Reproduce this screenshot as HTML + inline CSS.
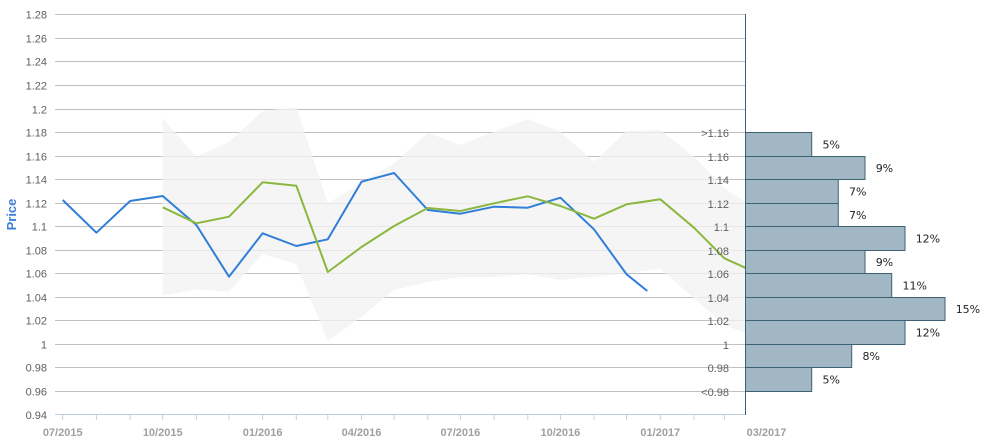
<!DOCTYPE html>
<html><head><meta charset="utf-8"><style>
html,body{margin:0;padding:0;background:#fff;}
svg{display:block;}
</style></head><body>
<svg width="988" height="443" viewBox="0 0 988 443" xmlns="http://www.w3.org/2000/svg">
<defs><clipPath id="pc"><rect x="55" y="0" width="690" height="443"/></clipPath></defs>
<g stroke="#c0c0c0" stroke-width="1">
<line x1="55" x2="745" y1="14.5" y2="14.5"/>
<line x1="55" x2="745" y1="38.5" y2="38.5"/>
<line x1="55" x2="745" y1="61.5" y2="61.5"/>
<line x1="55" x2="745" y1="85.5" y2="85.5"/>
<line x1="55" x2="745" y1="109.5" y2="109.5"/>
<line x1="55" x2="745" y1="132.5" y2="132.5"/>
<line x1="55" x2="745" y1="156.5" y2="156.5"/>
<line x1="55" x2="745" y1="179.5" y2="179.5"/>
<line x1="55" x2="745" y1="203.5" y2="203.5"/>
<line x1="55" x2="745" y1="226.5" y2="226.5"/>
<line x1="55" x2="745" y1="250.5" y2="250.5"/>
<line x1="55" x2="745" y1="273.5" y2="273.5"/>
<line x1="55" x2="745" y1="297.5" y2="297.5"/>
<line x1="55" x2="745" y1="320.5" y2="320.5"/>
<line x1="55" x2="745" y1="344.5" y2="344.5"/>
<line x1="55" x2="745" y1="367.5" y2="367.5"/>
<line x1="55" x2="745" y1="391.5" y2="391.5"/>
</g>
<g clip-path="url(#pc)">
<polygon fill="rgb(242,242,242)" fill-opacity="0.78" points="162.7,118.3 196.4,156.7 229,141.7 262.6,111 296.3,107.3 327.8,203.3 361.5,183 394.1,163.3 427.8,132.7 460.4,145 494.1,131.7 527.8,119 560.4,131.7 594,161.7 626.6,131 660.3,130 694,156.7 724.4,188.3 758,210 758,338 724.4,325 694,298.3 660.3,268.5 626.6,273.3 594,276.7 560.4,280 527.8,274 494.1,277 460.4,277.3 427.8,282 394.1,290 361.5,316.7 327.8,341 296.3,264.3 262.6,254 229,291.7 196.4,289.3 162.7,295.7"/>
<polyline fill="none" stroke="#2f7ed8" stroke-width="2" stroke-linejoin="round" points="62.7,200 96.4,232.7 130.1,201 162.7,196 196.4,225 229,276.7 262.6,233.3 296.3,246 327.8,239.3 361.5,181.7 394.1,173 427.8,210 460.4,213.7 494.1,206.7 527.8,207.7 560.4,197.7 594,229.3 626.6,274.3 647.3,291"/>
<polyline fill="none" stroke="#8bb73f" stroke-width="2" stroke-linejoin="round" points="162.7,207.3 196.4,223.3 229,216.7 262.6,182.3 296.3,185.7 327.8,272 361.5,247 394.1,226 427.8,208 460.4,211 494.1,203.3 527.8,196.3 560.4,206 594,218.7 626.6,204.3 660.3,199.3 694,227.7 724.4,258.3 758,273.5"/>
</g>
<g stroke="#c0d0e0" stroke-width="1">
<line x1="55" x2="745" y1="414.5" y2="414.5"/>
<line x1="62.7" x2="62.7" y1="415" y2="420"/>
<line x1="96.4" x2="96.4" y1="415" y2="420"/>
<line x1="130.1" x2="130.1" y1="415" y2="420"/>
<line x1="162.7" x2="162.7" y1="415" y2="420"/>
<line x1="196.4" x2="196.4" y1="415" y2="420"/>
<line x1="229" x2="229" y1="415" y2="420"/>
<line x1="262.6" x2="262.6" y1="415" y2="420"/>
<line x1="296.3" x2="296.3" y1="415" y2="420"/>
<line x1="327.8" x2="327.8" y1="415" y2="420"/>
<line x1="361.5" x2="361.5" y1="415" y2="420"/>
<line x1="394.1" x2="394.1" y1="415" y2="420"/>
<line x1="427.8" x2="427.8" y1="415" y2="420"/>
<line x1="460.4" x2="460.4" y1="415" y2="420"/>
<line x1="494.1" x2="494.1" y1="415" y2="420"/>
<line x1="527.8" x2="527.8" y1="415" y2="420"/>
<line x1="560.4" x2="560.4" y1="415" y2="420"/>
<line x1="594" x2="594" y1="415" y2="420"/>
<line x1="626.6" x2="626.6" y1="415" y2="420"/>
<line x1="660.3" x2="660.3" y1="415" y2="420"/>
<line x1="694" x2="694" y1="415" y2="420"/>
<line x1="724.4" x2="724.4" y1="415" y2="420"/>
</g>
<g font-family="Liberation Sans, Arial, sans-serif" font-size="11" font-weight="bold" fill="#a0a0a0" text-anchor="middle">
<text x="62.7" y="436">07/2015</text>
<text x="162.7" y="436">10/2015</text>
<text x="262.6" y="436">01/2016</text>
<text x="361.5" y="436">04/2016</text>
<text x="460.4" y="436">07/2016</text>
<text x="560.4" y="436">10/2016</text>
<text x="660.3" y="436">01/2017</text>
<text x="766.5" y="436">03/2017</text>
</g>
<g font-family="Liberation Sans, Arial, sans-serif" font-size="11" fill="#606060" text-anchor="end">
<text x="47" y="18.5">1.28</text>
<text x="47" y="42.5">1.26</text>
<text x="47" y="65.5">1.24</text>
<text x="47" y="89.5">1.22</text>
<text x="47" y="113.5">1.2</text>
<text x="47" y="136.5">1.18</text>
<text x="47" y="160.5">1.16</text>
<text x="47" y="183.5">1.14</text>
<text x="47" y="207.5">1.12</text>
<text x="47" y="230.5">1.1</text>
<text x="47" y="254.5">1.08</text>
<text x="47" y="277.5">1.06</text>
<text x="47" y="301.5">1.04</text>
<text x="47" y="324.5">1.02</text>
<text x="47" y="348.5">1</text>
<text x="47" y="371.5">0.98</text>
<text x="47" y="395.5">0.96</text>
<text x="47" y="419">0.94</text>
</g>
<text x="16" y="214.5" font-family="Liberation Sans, Arial, sans-serif" font-size="13" font-weight="bold" fill="#3d7fd6" text-anchor="middle" transform="rotate(-90 16 214.5)">Price</text>
<line x1="745.5" x2="745.5" y1="14" y2="415" stroke="#3d6273" stroke-width="1"/>
<g fill="#a1b7c4" stroke="#3d6273" stroke-width="1">
<rect x="745.5" y="132.5" width="66.2" height="24"/>
<rect x="745.5" y="156.5" width="119.5" height="23"/>
<rect x="745.5" y="179.5" width="92.8" height="24"/>
<rect x="745.5" y="203.5" width="92.8" height="23"/>
<rect x="745.5" y="226.5" width="159.5" height="24"/>
<rect x="745.5" y="250.5" width="119.5" height="23"/>
<rect x="745.5" y="273.5" width="146.2" height="24"/>
<rect x="745.5" y="297.5" width="199.5" height="23"/>
<rect x="745.5" y="320.5" width="159.5" height="24"/>
<rect x="745.5" y="344.5" width="106.2" height="23"/>
<rect x="745.5" y="367.5" width="66.2" height="24"/>
</g>
<g font-family="DejaVu Sans, Verdana, sans-serif" font-size="11" fill="#222">
<text x="822.5" y="148.5">5%</text>
<text x="875.7" y="172">9%</text>
<text x="849" y="195.5">7%</text>
<text x="849" y="219">7%</text>
<text x="915.7" y="242.5">12%</text>
<text x="875.7" y="266">9%</text>
<text x="902.5" y="289.5">11%</text>
<text x="955.7" y="313">15%</text>
<text x="915.7" y="336.5">12%</text>
<text x="862.5" y="360">8%</text>
<text x="822.5" y="383.5">5%</text>
</g>
<g font-family="Liberation Sans, Arial, sans-serif" font-size="11" fill="#606060" text-anchor="end">
<text x="729" y="137">&gt;1.16</text>
<text x="729" y="161">1.16</text>
<text x="729" y="184">1.14</text>
<text x="729" y="208">1.12</text>
<text x="729" y="231">1.1</text>
<text x="729" y="255">1.08</text>
<text x="729" y="278">1.06</text>
<text x="729" y="302">1.04</text>
<text x="729" y="325">1.02</text>
<text x="729" y="349">1</text>
<text x="729" y="372">0.98</text>
<text x="729" y="396">&lt;0.98</text>
</g>
</svg>
</body></html>
